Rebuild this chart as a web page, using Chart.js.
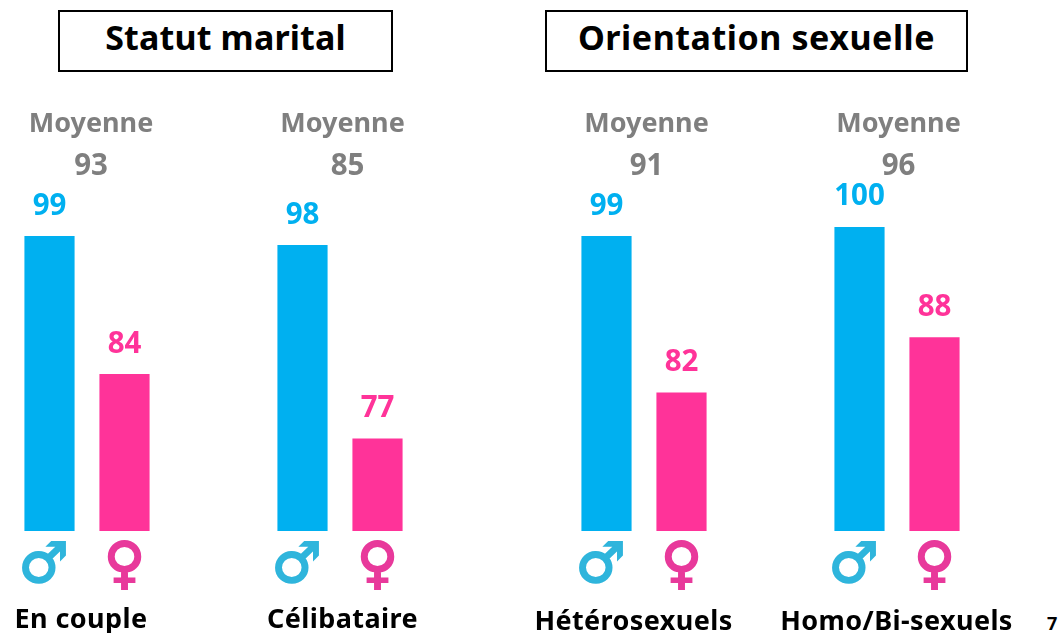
<!DOCTYPE html>
<html lang="fr">
<head>
<meta charset="utf-8">
<title>Statut marital et orientation sexuelle</title>
<script src="https://cdn.jsdelivr.net/npm/chart.js@4/dist/chart.umd.min.js"></script>
<style>
    html, body { margin: 0; padding: 0; background: #fff; }
    body { position: relative; width: 1062px; height: 633px; overflow: hidden; font-family: "Noto Sans", sans-serif; }
    canvas { position: absolute; top: 0; }
    .heading {
        position: absolute; top: 10px; height: 58px; line-height: 51px;
        border: 2px solid #000; text-align: center; font-weight: bold; font-size: 34px; color: #000;
        box-sizing: content-box; background: #fff;
    }
    #pageNumber { position: absolute; left: 1047px; top: 611px; font-size: 18px; font-weight: bold; color: #000; }
</style>
</head>
<body>
<div class="heading" style="left:58px;width:331px;letter-spacing:0.15px">Statut marital</div>
<div class="heading" style="left:545px;width:419px;letter-spacing:0.55px">Orientation sexuelle</div>
<canvas id="panel0" width="250" height="633"></canvas>
<canvas id="panel1" width="250" height="633"></canvas>
<canvas id="panel2" width="250" height="633"></canvas>
<canvas id="panel3" width="250" height="633"></canvas>
<div id="pageNumber">7</div>
<script>
// Values
const panelNames = ['En couple', 'Célibataire', 'Hétérosexuels', 'Homo/Bi-sexuels'];
// thin space after the male sign: it sits a bit left of its bar in the original
const genderSymbols = ['♂\u2009', '♀'];
const maleValues = [99, 98, 99, 100];
const femaleValues = [84, 77, 82, 88];
const averages = [93, 85, 91, 96];
const averageLabel = 'Moyenne';

// Layout of each small chart on the page
const panelLefts = [12, 264.5, 568.5, 821.5];
const averageLabelCenters = [91, 342, 646, 898];
const averageValueCenters = [91, 347, 646, 898];
const captionCenters = [81, 342, 633, 896];
const captionY = [620, 620, 622, 622];

const BLUE = '#00B0F0';
const PINK = '#FF3399';
const GREY = '#7F7F7F';
const SIDE = 50;
const FONT = '"Noto Sans", sans-serif';

// Draws the values above the bars, the average and the caption
function panelText(index) {
    return {
        id: 'panelText' + index,
        afterDraw(chart) {
            const ctx = chart.ctx;
            const originX = panelLefts[index] - SIDE;
            ctx.save();
            ctx.textAlign = 'center';
            ctx.textBaseline = 'middle';

            ctx.font = 'bold 29.5px ' + FONT;
            chart.getDatasetMeta(0).data.forEach(function(bar, i) {
                ctx.fillStyle = i === 0 ? BLUE : PINK;
                ctx.fillText(chart.data.datasets[0].data[i], bar.x, bar.y - 30);
            });

            ctx.fillStyle = GREY;
            ctx.fillText(averages[index], averageValueCenters[index] - originX, 167);
            ctx.font = 'bold 27px ' + FONT;
            ctx.fillText(averageLabel, averageLabelCenters[index] - originX, 124);

            ctx.fillStyle = '#000';
            ctx.font = 'bold 27px ' + FONT;
            ctx.letterSpacing = '0.4px';
            ctx.fillText(panelNames[index], captionCenters[index] - originX, captionY[index]);
            ctx.restore();
        }
    };
}

panelNames.forEach(function(name, index) {
    const canvas = document.getElementById('panel' + index);
    canvas.style.left = (panelLefts[index] - SIDE) + 'px';

    new Chart(canvas.getContext('2d'), {
        type: 'bar',
        data: {
            labels: genderSymbols,
            datasets: [{
                label: name,
                data: [maleValues[index], femaleValues[index]],
                backgroundColor: [BLUE, PINK],
                borderWidth: 0,
                barThickness: 49.5
            }]
        },
        options: {
            responsive: false,
            animation: false,
            layout: { padding: { left: SIDE, right: SIDE, top: 227, bottom: 0 } },
            plugins: { legend: { display: false }, tooltip: { enabled: false } },
            scales: {
                y: { display: false, min: 67, max: 100 },
                x: {
                    afterFit(scale) { scale.height = 102; },
                    grid: { display: false },
                    border: { display: false },
                    ticks: {
                        padding: -5,
                        maxRotation: 0,
                        color: ['#2FB5DC', '#E8399B'],
                        textStrokeColor: ['#2FB5DC', '#E8399B'],
                        textStrokeWidth: 2,
                        font: { family: 'DejaVu Sans', weight: 'bold', size: 56 }
                    }
                }
            }
        },
        plugins: [panelText(index)]
    });
});
</script>
</body>
</html>
